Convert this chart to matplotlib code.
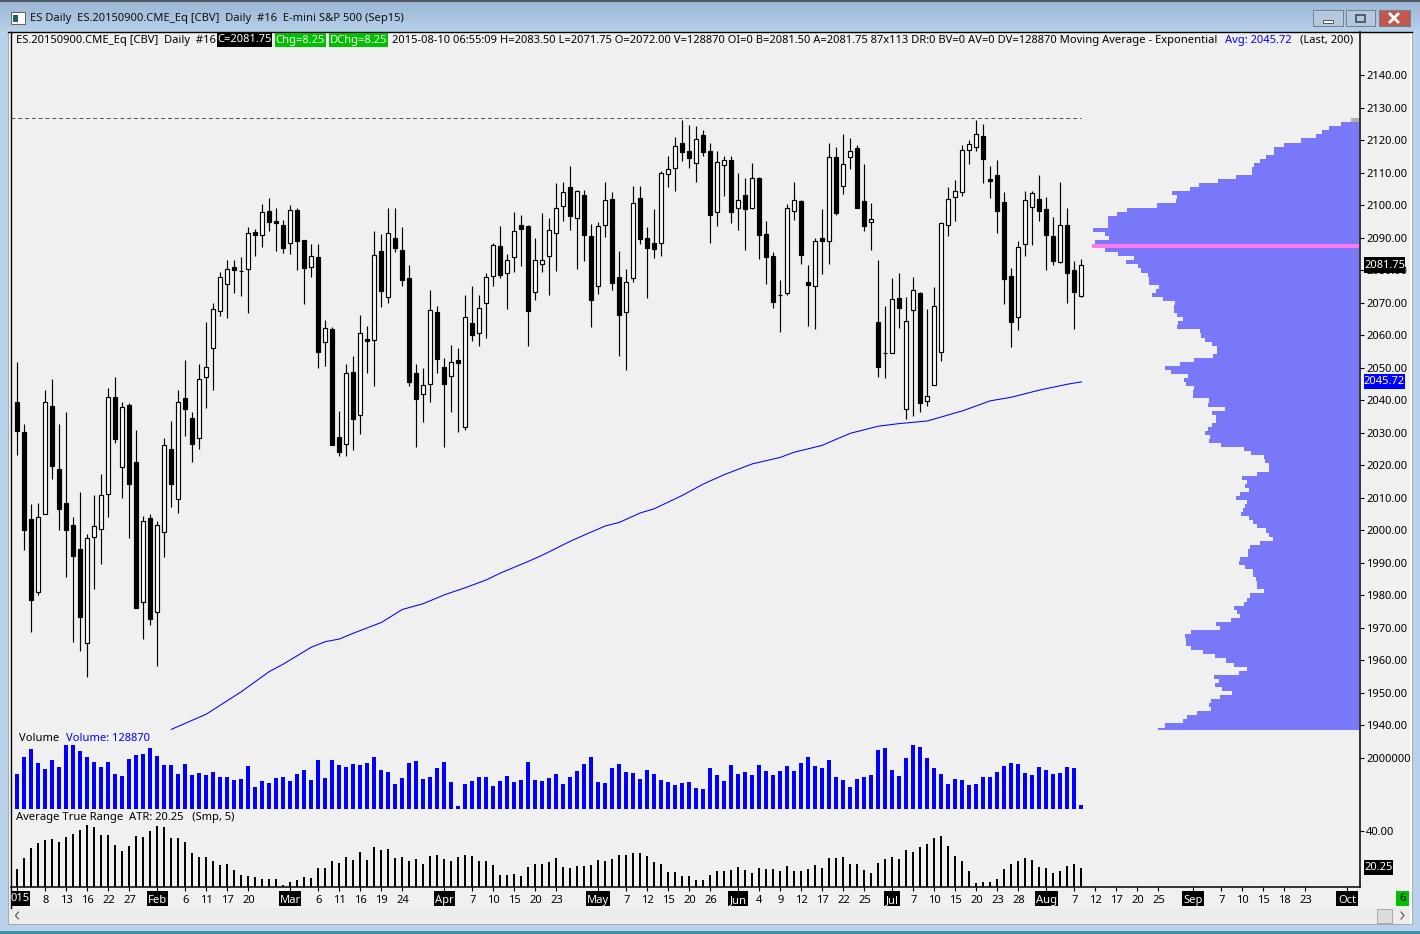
import numpy as np
import matplotlib
matplotlib.use("Agg")
import matplotlib.pyplot as plt
from matplotlib.patches import Rectangle

plt.rcParams['font.family'] = ['Noto Sans', 'DejaVu Sans']

highs = [2051.9,2032.8,2008.2,2008.5,2043.2,2046.6,2032.8,2036.5,2004.2,2011.9,
1998.8,2010.9,2017.4,2043.9,2047.2,2039.5,2039.1,2030.9,2004.4,2005.1,
2002.8,2028.5,2033.7,2043.2,2052.5,2036.5,2051.2,2064.2,2070.0,2079.4,
2083.2,2083.2,2084.2,2093.4,2092.7,2100.5,2102.3,2099.2,2095.4,2100.2,
2099.1,2089.3,2088.1,2088.1,2064.8,2062.6,2036.8,2051.1,2053.6,2066.3,
2062.9,2092.2,2091.2,2099.2,2099.2,2093.4,2081.7,2051.2,2050.0,2074.0,
2069.1,2053.1,2057.1,2056.2,2072.5,2075.2,2072.5,2079.2,2088.5,2093.7,
2085.1,2098.0,2097.1,2094.0,2090.0,2097.7,2096.2,2106.9,2107.2,2112.2,
2104.8,2104.8,2094.3,2094.9,2107.2,2104.1,2086.0,2080.5,2106.0,2106.0,
2093.4,2098.9,2110.6,2115.2,2121.1,2126.3,2124.8,2124.5,2123.2,2119.2,
2116.7,2115.2,2115.1,2109.9,2108.4,2113.1,2108.7,2095.2,2085.7,2077.1,
2100.5,2107.2,2101.7,2081.7,2090.0,2098.9,2119.2,2118.0,2122.0,2120.8,
2118.6,2112.8,2100.8,2083.2,2069.1,2077.7,2079.2,2071.8,2077.9,2073.4,
2068.2,2074.9,2094.9,2105.7,2107.8,2118.6,2120.2,2126.3,2125.1,2112.2,
2114.0,2104.2,2080.8,2089.1,2104.5,2104.5,2109.4,2102.6,2096.5,2107.2,
2099.2,2082.9,2083.5]
opens = [2039.5,2030.2,2003.4,1981.0,2005.0,2038.3,2018.8,2008.4,2001.6,1994.2,
1965.3,1997.9,2000.4,2011.1,2041.0,2019.4,2038.6,2021.0,1977.9,2003.8,
1974.8,1999.4,2025.0,2009.6,2040.7,2034.5,2028.4,2047.1,2056.1,2067.4,
2075.8,2081.0,2079.75,2080.4,2091.7,2090.8,2098.2,2095.1,2093.9,2088.4,
2098.5,2089.3,2081.0,2084.1,2057.9,2061.9,2028.7,2026.5,2048.7,2035.4,
2058.9,2058.5,2085.9,2071.7,2089.9,2086.2,2077.6,2048.4,2042.1,2045.0,
2067.1,2050.2,2047.4,2052.4,2031.7,2063.7,2060.7,2069.9,2078.2,2087.4,
2079.1,2084.1,2093.9,2093.6,2073.3,2081.9,2084.4,2091.4,2099.7,2105.6,
2096.1,2103.1,2090.5,2075.1,2093.9,2101.9,2077.9,2067.1,2077.6,2102.2,
2089.9,2088.4,2088.4,2109.6,2111.4,2119.1,2116.7,2113.0,2121.6,2116.7,
2097.9,2112.4,2113.9,2099.1,2103.1,2099.1,2108.4,2091.1,2084.4,2072.4,
2073.0,2098.2,2101.3,2076.4,2075.1,2089.9,2089.0,2114.8,2105.9,2114.8,
2117.6,2101.3,2094.8,2064.1,2054.5,2054.5,2071.4,2037.3,2067.7,2073.0,
2039.7,2044.7,2054.8,2093.9,2102.5,2104.1,2117.0,2117.9,2121.3,2108.2,
2109.3,2101.0,2078.2,2065.6,2088.1,2099.4,2101.9,2098.8,2090.5,2082.5,
2093.9,2080.1,2072.0]
closes = [2030.7,2000.3,1978.7,2004.1,2039.4,2019.7,2006.7,2000.3,1992.0,1973.5,
1997.6,2001.3,2010.8,2041.0,2028.3,2037.9,2014.4,1976.0,2002.8,1972.9,
2001.6,2026.4,2014.4,2039.4,2037.5,2026.7,2046.7,2050.2,2068.3,2077.9,
2080.4,2080.0,2079.75,2091.4,2091.0,2098.1,2094.8,2094.5,2087.0,2098.5,
2089.2,2080.9,2084.4,2055.0,2062.2,2026.4,2024.0,2048.4,2034.4,2060.7,
2058.4,2084.7,2073.8,2091.4,2087.0,2077.2,2045.8,2040.6,2044.7,2067.7,
2052.9,2045.2,2051.7,2051.6,2065.6,2060.0,2068.4,2077.9,2087.7,2078.7,
2083.1,2092.1,2092.9,2067.6,2083.1,2083.1,2092.4,2099.1,2104.1,2096.9,
2104.4,2091.0,2071.0,2093.8,2101.6,2076.3,2066.4,2076.4,2100.7,2089.8,
2087.0,2086.7,2109.9,2111.1,2118.2,2116.6,2114.7,2120.4,2116.6,2097.2,
2113.3,2113.9,2098.1,2101.6,2099.0,2108.4,2091.0,2084.3,2070.4,2072.4,
2099.1,2101.6,2084.9,2075.4,2089.0,2089.2,2114.8,2097.8,2112.7,2116.7,
2099.3,2093.8,2095.7,2050.4,2054.5,2071.1,2068.6,2064.4,2073.9,2039.1,
2041.3,2069.0,2094.5,2101.9,2104.4,2117.0,2118.8,2121.9,2114.4,2107.5,
2098.4,2077.5,2064.3,2087.1,2101.6,2103.7,2098.4,2091.0,2083.0,2093.9,
2079.3,2073.5,2081.75]
lows = [2023.2,1994.0,1968.8,1980.2,2005.0,2015.9,2000.0,1985.8,1965.7,1963.0,
1955.0,1982.1,1989.8,2004.0,2027.0,2010.1,1997.7,1976.0,1966.7,1971.0,
1958.4,1991.7,2007.3,2005.5,2029.1,2021.2,2025.2,2037.8,2043.3,2066.1,
2065.5,2073.2,2072.0,2067.0,2084.6,2087.3,2092.0,2086.1,2085.4,2085.1,
2080.2,2069.8,2078.0,2050.1,2050.6,2026.4,2023.0,2023.0,2024.8,2029.8,
2048.5,2044.5,2068.8,2070.0,2085.7,2075.2,2044.5,2025.7,2033.4,2039.5,
2048.5,2025.7,2036.5,2030.3,2030.9,2058.3,2056.8,2059.2,2075.2,2077.7,
2068.2,2079.5,2081.4,2056.8,2070.9,2079.5,2072.5,2079.8,2095.2,2092.5,
2080.5,2082.9,2062.6,2072.8,2090.3,2074.0,2053.7,2049.4,2076.5,2088.2,
2071.5,2083.8,2084.5,2105.7,2104.5,2113.7,2111.5,2107.2,2115.2,2088.5,
2093.7,2102.9,2094.6,2092.5,2086.3,2098.9,2083.5,2075.8,2068.5,2061.1,
2072.5,2095.5,2082.0,2062.9,2062.0,2078.9,2082.0,2097.1,2103.5,2111.2,
2099.3,2092.2,2086.3,2047.2,2046.9,2054.5,2062.3,2034.2,2035.2,2036.5,
2038.3,2044.7,2052.2,2090.6,2095.2,2102.9,2112.8,2116.8,2106.9,2102.3,
2091.5,2069.7,2056.5,2061.7,2084.5,2087.8,2095.2,2080.2,2081.7,2082.3,
2070.0,2062.0,2071.75]

ema_index = [22,27,32,36,38,42,44,46,48,52,55,58,61,64,67,69,73,75,79,81,84,86,89,91,95,98,101,105,109,111,115,117,119,123,126,130,135,139,142,146,150,152]
ema_values = [1938.8,1943.5,1950.4,1956.6,1958.9,1964.1,1965.8,1966.6,1968.4,1971.7,1975.7,1977.5,1980.2,1982.4,1984.8,1986.9,1990.5,1992.4,1996.7,1998.6,2001.4,2002.5,2005.4,2006.7,2010.8,2014.3,2017.2,2020.5,2022.5,2024.1,2026.2,2028.1,2029.9,2032.1,2032.9,2033.7,2036.8,2039.9,2041.0,2043.2,2045.0,2045.72]

volume_k = [1378,2054,2372,1816,1577,1935,1657,2531,2531,2293,2054,1856,1657,1856,1378,1299,1975,2134,2174,2412,
2094,1736,1736,1378,1776,1339,1418,1339,1458,1259,1259,1140,1180,1697,862,1100,1021,1219,1259,1100,
1378,1537,1140,1935,1219,1935,1736,1657,1776,1736,1816,2054,1537,1458,981,1219,1816,1895,1180,1259,
1617,1856,1060,106,981,1100,1259,1259,901,1100,1299,1060,1140,1856,1140,1100,1219,1378,981,1259,
1498,1776,2054,1060,1021,1617,1776,1458,1418,1180,1537,1378,1140,1060,941,1021,1060,822,782,1617,
1339,1100,1736,1378,1458,1339,1736,1498,1339,1498,1697,1498,1816,2054,1697,1617,1935,1259,1140,862,
1180,1259,1339,2333,2412,1537,1299,2015,2531,2452,2015,1617,1378,981,1180,1140,941,981,1259,1259,
1458,1697,1816,1776,1418,1339,1657,1537,1378,1418,1657,1617,129]

atr_values = [19.7,25.6,31.0,33.7,35.3,35.9,34.3,36.9,38.6,40.7,43.4,42.3,38.0,38.0,32.6,29.4,32.1,37.5,36.9,40.2,
42.9,42.3,36.4,36.4,34.3,28.3,26.2,26.2,24.0,21.9,22.4,19.2,16.5,15.9,15.4,14.3,14.3,14.3,11.1,12.7,
13.8,15.4,14.9,20.25,20.25,24.0,22.9,26.2,24.6,28.9,24.6,31.6,29.9,30.5,25.6,26.2,24.0,25.1,22.4,26.7,
27.3,25.1,24.0,26.2,27.3,26.7,24.0,24.0,21.9,16.5,16.5,17.0,15.9,20.8,22.4,22.4,23.5,25.6,
20.8,20.25,21.3,21.3,21.9,24.6,24.0,25.1,27.3,27.3,28.3,28.3,26.7,23.5,22.4,18.1,18.1,15.9,15.9,13.8,13.8,16.5,
18.6,18.6,19.2,20.8,19.2,17.6,20.25,19.7,19.7,18.6,21.3,18.6,18.6,19.7,21.9,20.25,25.6,25.6,26.2,22.4,22.4,19.2,
17.6,22.9,25.1,26.2,25.1,29.9,28.9,31.6,33.2,36.4,37.5,32.1,26.7,24.0,18.6,12.2,12.7,12.7,14.3,19.7,22.4,24.0,
25.6,24.6,20.8,20.25,17.6,18.6,21.3,22.4,20.25]

# volume at price, highest band first, arbitrary units; one band is 1.25 points
profile_top_price = 2126.25
profile_step = 1.25
profile_volume = [23,53,89,110,128,173,224,254,254,278,296,314,319,319,368,422,479,506,560,545,548,605,695,725,752,752,752,797,761,749,791,800,
761,722,674,698,662,653,632,629,629,599,608,620,587,551,554,554,545,527,542,545,476,473,461,440,425,425,437,494,536,581,563,512,524,518,494,497,497,449,452,401,440,428,428,440,452,
461,446,449,413,344,323,284,281,269,269,305,350,335,341,329,356,368,335,341,347,353,329,317,305,278,269,257,296,326,332,332,356,359,341,317,317,308,305,305,284,326,335,344,374,365,356,383,428,416,503,521,518,518,503,467,431,398,374,335,359,434,419,431,410,380,416,443,449,443,485,515,527,581,602]

date_ticks = [0,4,7,10,13,16,20,24,27,30,33,39,43,46,49,52,55,61,65,68,71,74,77,83,87,90,93,96,99,103,106,109,112,115,118,121,125,128,131,134,137,140,143,147,151,154,157,160,163,168,172,175,178,181,184,190]
date_labels = ['','8','13','16','22','27','Feb','6','11','17','20','Mar','6','11','16','19','24','Apr','7','10','15','20','23','May','7','12','15','20','26','Jun','4','9','12','17','22','25','Jul','7','10','15','20','23','28','Aug','7','12','17','20','25','Sep','7','10','15','18','23','Oct']
month_box_px = {'Feb':21,'Mar':22,'Apr':21,'May':24,'Jun':20,'Jul':16,'Aug':23,'Sep':22,'Oct':22}
price_ticks = np.arange(1940, 2141, 10)

W, H = 1420, 934
fig = plt.figure(figsize=(W/100, H/100), dpi=100, facecolor='#b9d1ea')
BG = '#f0f0f0'
FS = 8.05

def rect(l, t, r, b):
    return [l/W, 1-b/H, (r-l)/W, (b-t)/H]

# ---- window chrome drawn in pixel coordinates
bg = fig.add_axes([0, 0, 1, 1], zorder=0)
bg.set_xlim(0, W); bg.set_ylim(H, 0); bg.axis('off')
grad = np.linspace(0, 1, 32)[:, None, None]*np.array([[[0.725-0.60, 0.82-0.71, 0.918-0.83]]])+np.array([[[0.60, 0.71, 0.83]]])
bg.imshow(grad, extent=(0, W, 32, 0), aspect='auto', zorder=0)
bg.set_xlim(0, W); bg.set_ylim(H, 0)
bg.add_patch(Rectangle((0, 0), W, 1.5, fc='#505860', ec='none', zorder=1))
bg.add_patch(Rectangle((0, 32), W, 902, fc='#b9d1ea', ec='none', zorder=0.5))
bg.add_patch(Rectangle((8, 32), 1404, 892, fc=BG, ec='#a0a0a0', lw=0.6, zorder=1))
bg.add_patch(Rectangle((1410, 32), 2, 892, fc='white', ec='none', zorder=1.1))
bg.add_patch(Rectangle((0, 931), W, 3, fc='#3a8fa8', ec='none', zorder=1))
# scrollbar
bg.add_patch(Rectangle((10, 908), 1400, 15, fc='#ececec', ec='none', zorder=1.2))
bg.add_patch(Rectangle((1377, 908.5), 15, 14, fc='#dcdcdc', ec='#a8a8a8', lw=0.7, zorder=1.3))
bg.plot([18.5, 15.5, 18.5], [912, 915.5, 919], color='#505050', lw=0.8, zorder=1.3)
bg.plot([1401, 1404, 1401], [912, 915.5, 919], color='#505050', lw=0.8, zorder=1.3)
# frame lines
bg.plot([8, 1412], [31.5, 31.5], color='black', lw=1, zorder=5)
bg.plot([10.5, 10.5], [32, 908], color='black', lw=1, zorder=5)
bg.plot([1360, 1360], [32, 887], color='black', lw=1.1, zorder=5)
bg.plot([11, 1360], [887, 887], color='black', lw=1.1, zorder=5)
# title icon and buttons
bg.add_patch(Rectangle((10.5, 12), 14, 12, fc='white', ec='#606060', lw=0.7, zorder=2))
bg.add_patch(Rectangle((12.5, 15), 5, 7, fc='#1f5f70', ec='none', zorder=2.1))
for l_, r_, c_ in [(1313, 1343, '#b4c9e0'), (1346, 1375, '#b4c9e0'), (1379, 1410, '#c0584e')]:
    bg.add_patch(Rectangle((l_, 10), r_-l_, 16, fc=c_, ec='#708090', lw=0.7, zorder=2))
bg.add_patch(Rectangle((1323, 20), 10, 3, fc='white', ec='#505860', lw=0.7, zorder=2.1))
bg.add_patch(Rectangle((1356, 14.5), 9, 7, fc='none', ec='#384048', lw=1.1, zorder=2.1))
bg.plot([1390, 1398], [14, 22], color='white', lw=2, zorder=2.2)
bg.plot([1398, 1390], [14, 22], color='white', lw=2, zorder=2.2)

def label(x, y, s, color='black', ha='left'):
    return bg.text(x, y, s, color=color, ha=ha, va='center', fontsize=FS, zorder=8)

def boxed(l, r, t, b, s, color, fc):
    bg.add_patch(Rectangle((l, t), r-l, b-t, fc=fc, ec='none', zorder=7))
    return bg.text((l+r)/2, (t+b)/2, s, color=color, ha='center', va='center', fontsize=FS, zorder=8)

label(30, 19, 'ES Daily  ES.20150900.CME_Eq [CBV]  Daily  #16  E-mini S&P 500 (Sep15)', color='#101010')
label(16, 40.5, 'ES.20150900.CME_Eq [CBV]  Daily  #16')
boxed(217, 272, 33, 47, 'C=2081.75', 'white', 'black')
boxed(275, 326, 33, 47, 'Chg=8.25', 'white', '#00c000')
boxed(329, 388, 33, 47, 'DChg=8.25', 'white', '#00c000')
label(392, 40.5, '2015-08-10 06:55:09 H=2083.50 L=2071.75 O=2072.00 V=128870 OI=0 B=2081.50 A=2081.75 87x113 DR:0 BV=0 AV=0 DV=128870 Moving Average - Exponential')
label(1225, 40.5, 'Avg: 2045.72', color='#0000ff')
label(1300, 40.5, '(Last, 200)')
label(19, 738.5, 'Volume')
label(66, 738.5, 'Volume: 128870', color='#0000ff')
label(16, 817.5, 'Average True Range  ATR: 20.25   (Smp, 5)')
boxed(11, 30, 891, 906, '015', 'white', 'black')
boxed(1396, 1409, 891, 906, '6', 'black', '#00c000')

# ---- price pane: candle index 0 sits at pixel 17.33, one candle per 7 pixels
xlim = ((11-17.33)/7, (1360-17.33)/7)
def price_at(y):
    return 2000+(530.5-y)/3.25

ax = fig.add_axes(rect(11, 32, 1360, 730), zorder=2)
ax.patch.set_visible(False)
ax.set_xlim(*xlim); ax.set_ylim(price_at(730), price_at(32))
for s in ax.spines.values():
    s.set_visible(False)
idx = np.arange(len(closes))
o, h, l, c = map(np.array, (opens, highs, lows, closes))
ax.vlines(idx, l, h, color='black', lw=0.85, zorder=2)
up = c >= o
ax.bar(idx[up], (c-o)[up], bottom=o[up], width=4/7, fc='white', ec='black', lw=0.85, zorder=3)
ax.bar(idx[~up], (c-o)[~up], bottom=o[~up], width=4/7, fc='black', ec='black', lw=0.85, zorder=3)
ax.plot(ema_index, ema_values, color='#0000ff', lw=0.75, zorder=4)
ax.plot([xlim[0], 152], [2126.8, 2126.8], color='#505050', lw=0.7, dashes=(4, 3), zorder=1)
ax.set_xticks([])
ax.yaxis.tick_right()
ax.set_yticks(price_ticks)
ax.set_yticklabels([f'{p:.2f}' for p in price_ticks], fontsize=FS)
ax.tick_params(axis='y', length=3, width=0.8, pad=1.5)

# value flags sit above the price scale
over = fig.add_axes([0, 0, 1, 1], zorder=3)
over.set_xlim(0, W); over.set_ylim(H, 0); over.axis('off')
for t_, b_, s_, fc_ in [(257, 273, '2081.75', 'black'), (374, 389, '2045.72', '#0000ff'), (860, 875, '20.25', 'black')]:
    r_ = 1393 if s_ == '20.25' else 1405
    over.add_patch(Rectangle((1364, t_), r_-1364, b_-t_, fc=fc_, ec='none', zorder=7))
    over.text((1364+r_)/2, (t_+b_)/2+0.5, s_, color='white', ha='center', va='center', fontsize=FS, zorder=8)

# ---- volume at price, same price scale, bars grow leftward from pixel 1358.7
pf = fig.add_axes(rect(11, 32, 1360, 730), zorder=1.5)
pf.patch.set_visible(False)
pf.axis('off')
pf.set_xlim((1358.7-11)*3, (1358.7-1360)*3); pf.set_ylim(price_at(730), price_at(32))
levels = profile_top_price - profile_step*np.arange(len(profile_volume))
poc = int(np.argmax(profile_volume))
colors = ['#7878f8']*len(profile_volume)
colors[0] = '#b0b0b0'; colors[poc] = '#ff78f0'
pf.barh(levels, profile_volume, height=profile_step, color=colors, lw=0)

# ---- volume pane
vol = fig.add_axes(rect(11, 733, 1360, 808.7), zorder=2)
vol.patch.set_visible(False)
for s in vol.spines.values():
    s.set_visible(False)
vol.set_xlim(*xlim)
vol.set_ylim(0, (808.7-733)/50.3*2000000)
vol.bar(idx-0.07, np.array(volume_k)*1000, width=4.3/7, color='#0000ff', lw=0)
vol.set_xticks([]); vol.yaxis.tick_right()
vol.set_yticks([2000000]); vol.set_yticklabels(['2000000'], fontsize=FS)
vol.tick_params(axis='y', length=3, width=0.8, pad=1.5)

# ---- ATR pane
atr = fig.add_axes(rect(11, 812, 1360, 886.5), zorder=2)
atr.patch.set_visible(False)
for s in atr.spines.values():
    s.set_visible(False)
atr.set_xlim(*xlim)
atr.set_ylim(40-(886.5-831)/1.857, 40+(831-812)/1.857)
atr.bar(idx, atr_values, width=2/7, color='black', lw=0)
atr.yaxis.tick_right()
atr.set_yticks([40]); atr.set_yticklabels(['40.00'], fontsize=FS)
atr.tick_params(axis='y', length=3, width=0.8, pad=1.5)
atr.set_xticks(date_ticks)
atr.set_xticklabels(date_labels, fontsize=FS)
atr.tick_params(axis='x', length=3, width=0.8, pad=3)
for t, i_ in zip(atr.get_xticklabels(), date_ticks):
    s_ = t.get_text()
    if s_ in month_box_px:
        t.set_color('white')
        cx = 17.33+7*i_
        bg.add_patch(Rectangle((cx-month_box_px[s_]/2, 891), month_box_px[s_], 15, fc='black', ec='none', zorder=7))

fig.savefig('out.png', dpi=100, facecolor=fig.get_facecolor())
